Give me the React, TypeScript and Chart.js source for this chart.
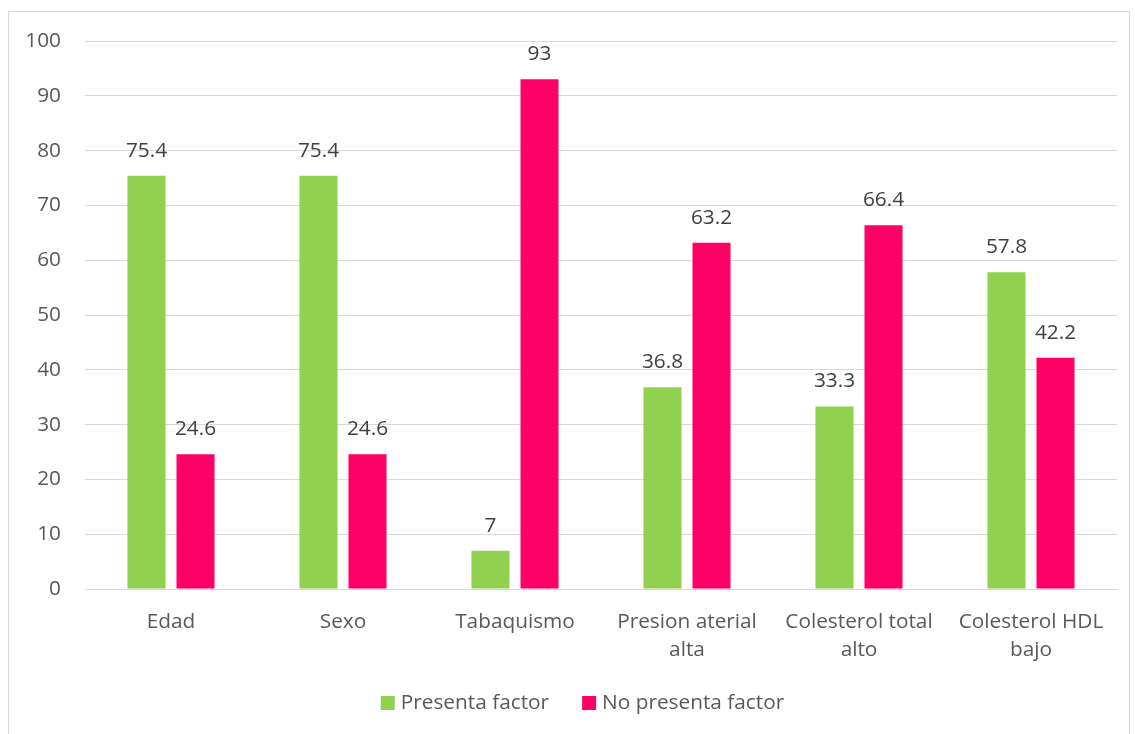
import React, { useEffect, useRef } from "react";
import { Chart, registerables } from "chart.js";

Chart.register(...registerables);

const categories: (string | string[])[] = [
  "Edad",
  "Sexo",
  "Tabaquismo",
  ["Presion aterial", "alta"],
  ["Colesterol total", "alto"],
  ["Colesterol HDL", "bajo"],
];
const presentaFactor = [75.4, 75.4, 7, 36.8, 33.3, 57.8];
const noPresentaFactor = [24.6, 24.6, 93, 63.2, 66.4, 42.2];
const seriesNames = ["Presenta factor", "No presenta factor"];
const seriesColors = ["#92D050", "#FF0066"];

const FONT = "'Open Sans', sans-serif";
const SIZE = 20.8;

// Writes each bar's value above it
const valueLabels = {
  id: "valueLabels",
  afterDatasetsDraw(chart: any) {
    const ctx = chart.ctx;
    ctx.save();
    ctx.font = `${SIZE}px ${FONT}`;
    ctx.fillStyle = "#404040";
    ctx.textAlign = "center";
    ctx.textBaseline = "middle";
    chart.data.datasets.forEach((ds: any, i: number) => {
      const meta = chart.getDatasetMeta(i);
      meta.data.forEach((el: any, j: number) => {
        ctx.fillText(String(ds.data[j]), el.x, el.y - 25);
      });
    });
    ctx.restore();
  },
};

// Compact legend row at the bottom: square swatch, short gap, label
const bottomLegend = {
  id: "bottomLegend",
  afterDraw(chart: any) {
    const ctx = chart.ctx;
    const box = 14;
    const gap = 6;
    const spacing = 33;
    ctx.save();
    ctx.font = `${SIZE}px ${FONT}`;
    ctx.textBaseline = "middle";
    ctx.textAlign = "left";
    const items = chart.data.datasets.map((ds: any) => ({
      text: ds.label,
      color: ds.backgroundColor,
      w: box + gap + ctx.measureText(ds.label).width,
    }));
    const total = items.reduce((s: number, it: any) => s + it.w, 0) + spacing * (items.length - 1);
    const cx = chart.width / 2 + 15;
    const y = chart.height - 31;
    let x = cx - total / 2;
    items.forEach((it: any) => {
      ctx.fillStyle = it.color;
      ctx.fillRect(x, y - box / 2, box, box);
      ctx.fillStyle = "#595959";
      ctx.fillText(it.text, x + box + gap, y);
      x += it.w + spacing;
    });
    ctx.restore();
  },
};

export default function App() {
  const ref = useRef<HTMLCanvasElement>(null);

  useEffect(() => {
    if (!ref.current) return;
    const chart = new Chart(ref.current, {
      type: "bar",
      data: {
        labels: categories,
        datasets: [
          {
            label: seriesNames[0],
            data: presentaFactor,
            backgroundColor: seriesColors[0],
            categoryPercentage: 0.57,
            barPercentage: 0.776,
          },
          {
            label: seriesNames[1],
            data: noPresentaFactor,
            backgroundColor: seriesColors[1],
            categoryPercentage: 0.57,
            barPercentage: 0.776,
          },
        ],
      },
      options: {
        animation: false,
        responsive: false,
        maintainAspectRatio: false,
        layout: { padding: { left: 0, right: 18, top: 41, bottom: 50 } },
        plugins: {
          tooltip: { enabled: false },
          legend: { display: false },
        },
        scales: {
          x: {
            grid: { display: false, drawTicks: false },
            border: { color: "#d9d9d9", width: 1 },
            ticks: {
              color: "#595959",
              font: { family: FONT, size: SIZE, lineHeight: 1.35 },
              padding: 19,
              maxRotation: 0,
              autoSkip: false,
            },
            afterFit(scale: any) {
              scale.height = 95;
            },
          },
          y: {
            min: 0,
            max: 100,
            grid: { color: "#d9d9d9", drawTicks: false },
            border: { display: false },
            ticks: {
              stepSize: 10,
              color: "#595959",
              font: { family: FONT, size: SIZE },
              padding: 24,
            },
            afterFit(scale: any) {
              scale.width = 85;
            },
          },
        },
      },
      plugins: [valueLabels, bottomLegend],
    });
    return () => chart.destroy();
  }, []);

  return (
    <div style={{ position: "fixed", left: 0, top: 0, width: 1135, height: 734, background: "#fff", overflow: "hidden" }}>
      <div
        style={{
          position: "absolute",
          left: 8,
          top: 11,
          width: 1120,
          height: 740,
          border: "1px solid #d9d9d9",
        }}
      />
      <canvas ref={ref} width={1135} height={734} style={{ position: "absolute", left: 0, top: 0 }} />
    </div>
  );
}
